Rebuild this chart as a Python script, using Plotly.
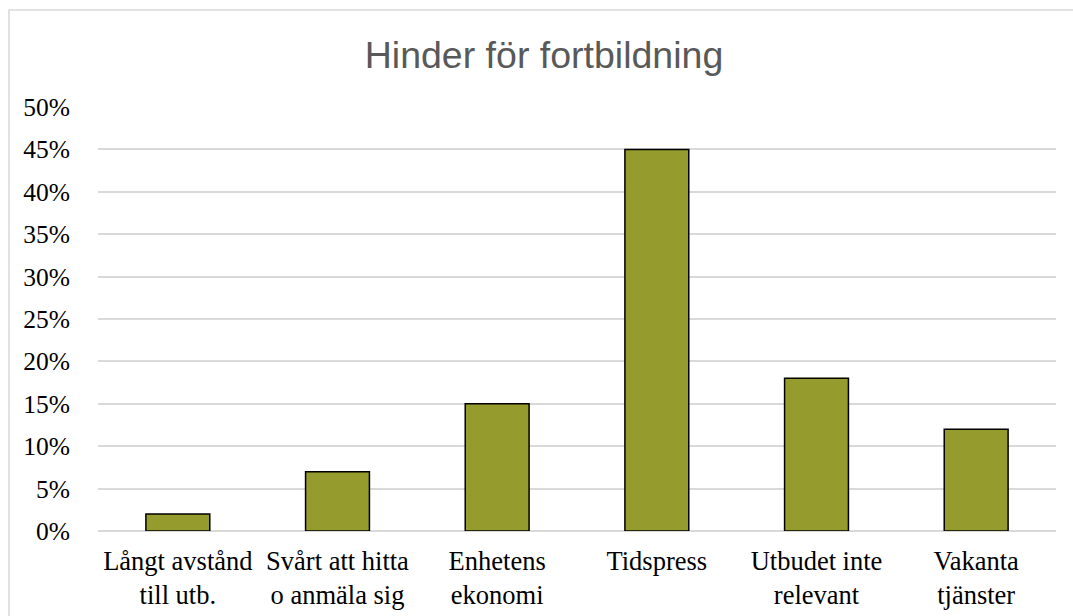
import plotly.graph_objects as go

categories = ["Långt avstånd<br>till utb.", "Svårt att hitta<br>o anmäla sig", "Enhetens<br>ekonomi",
              "Tidspress", "Utbudet inte<br>relevant", "Vakanta<br>tjänster"]
values = [0.02, 0.07, 0.15, 0.45, 0.18, 0.12]
y_ticks = [0, 0.05, 0.10, 0.15, 0.20, 0.25, 0.30, 0.35, 0.40, 0.45, 0.50]
y_tick_labels = ["0%", "5%", "10%", "15%", "20%", "25%", "30%", "35%", "40%", "45%", "50%"]
title_text = "Hinder för fortbildning"

W, H = 1073, 616
L, R, T, B = 98, W - 1056, 107, H - 531
pw, ph = W - L - R, H - T - B

fig = go.Figure(go.Bar(
    x=categories, y=values, width=0.4,
    marker=dict(color="#969B2D", line=dict(color="#000000", width=1.5)),
    hoverinfo="skip",
))

fig.update_layout(
    width=W, height=H,
    margin=dict(l=L, r=R, t=T, b=B, autoexpand=False),
    paper_bgcolor="white", plot_bgcolor="white",
    showlegend=False,
    title=dict(text=title_text, x=(544 - L) / pw, xref="paper", xanchor="center",
               y=1 - 55 / H, yanchor="middle",
               font=dict(family="Liberation Sans, Arial", size=37.5, color="#595959")),
    xaxis=dict(showgrid=False, showline=False, zeroline=False, ticks="",
               tickfont=dict(family="Liberation Serif, Times New Roman", size=26.5, color="#000000"),
               ticklabelstandoff=11),
    yaxis=dict(range=[0, 0.5], tickvals=y_ticks, ticktext=y_tick_labels,
               showgrid=True, gridcolor="#D9D9D9", gridwidth=1.5,
               zeroline=True, zerolinecolor="#D9D9D9", zerolinewidth=1.5,
               showline=False, ticks="",
               tickfont=dict(family="Liberation Serif, Times New Roman", size=25.5, color="#000000"),
               ticklabelstandoff=27),
    shapes=[dict(type="rect", xref="paper", yref="paper",
                 x0=(9 - L) / pw, x1=(W + 20 - L) / pw,
                 y0=-(H + 20 - T - ph) / ph, y1=1 + (T - 10) / ph,
                 line=dict(color="#D9D9D9", width=1.5), fillcolor="rgba(0,0,0,0)", layer="below")],
)

fig.write_html("out.html", config={"displayModeBar": False},
               post_script="document.body.style.margin='0';")
